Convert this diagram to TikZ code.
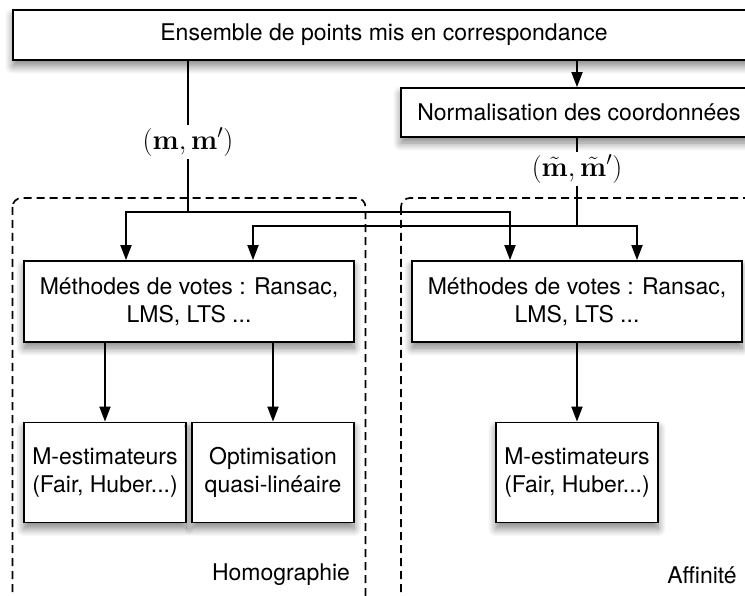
\RequirePackage{fix-cm}
\documentclass[tikz,border=0pt]{standalone}
\usepackage[no-math]{fontspec}
\setmainfont{TeX Gyre Heros}
\usetikzlibrary{arrows.meta,shadows.blur}
\pgfdeclarelayer{bg}
\pgfsetlayers{bg,main}
\begin{document}
\begin{tikzpicture}[x=1pt,y=-1pt,
  font=\fontsize{23}{28}\selectfont,
  box/.style={draw,line width=1.8pt,fill=white,inner sep=0pt,align=center,
    blur shadow={shadow blur steps=10,shadow xshift=0pt,shadow yshift=-6pt,
      shadow blur radius=8pt,shadow opacity=50}},
  conn/.style={line width=1.8pt},
  arr/.style={conn,-{Triangle[length=15pt,width=11pt]}},
  group/.style={draw,dash pattern=on 8pt off 5pt,line width=1.7pt,rounded corners=9pt},
  mathlab/.style={inner sep=3pt,font=\fontsize{28}{32}\selectfont}]
\useasboundingbox (0,0) rectangle (745,596);
\clip (0,0) rectangle (745,596);
% boxes
\node[box,minimum width=742,minimum height=50] (top) at (384,35) {Ensemble de points mis en correspondance};
\node[box,minimum width=356,minimum height=49] (norm) at (579,112.5) {Normalisation des coordonnées};
\node[box,minimum width=330,minimum height=81] (votesL) at (189,301.5) {Méthodes de votes : Ransac,\\LMS, LTS ...};
\node[box,minimum width=330,minimum height=81] (votesR) at (577,301.5) {Méthodes de votes : Ransac,\\LMS, LTS ...};
\node[box,minimum width=162,minimum height=100] (mestL) at (105,472.5) {M-estimateurs\\(Fair, Huber...)};
\node[box,minimum width=162,minimum height=100] (optim) at (273,472.5) {Optimisation\\quasi-linéaire};
\node[box,minimum width=162,minimum height=100] (mestR) at (577,472.5) {M-estimateurs\\(Fair, Huber...)};
% group labels
\node (homo) at (281,575) {Homographie};
\node (aff) at (702,575) {Affinité};
% link labels
\node[mathlab] (mlab) at (188,142) {$(\mathbf{m},\mathbf{m}')$};
\node[mathlab] (mtl) at (577,169) {$(\tilde{\mathbf{m}},\tilde{\mathbf{m}}')$};
% junctions
\coordinate (j1) at (188,212);
\coordinate (a1) at (126,212);
\coordinate (a2) at (510,212);
\coordinate (j2) at (577,226);
\coordinate (b1) at (253,226);
\coordinate (b2) at (637,226);
\begin{pgfonlayer}{bg}
% groups
\draw[group] (12.5,198) rectangle (365.5,606);
\draw[group] (401,198) rectangle (770,606);
% connectors
\draw[conn] (top.south -| mlab) -- (mlab.north);
\draw[conn] (mlab.south) -- (j1);
\draw[arr] (j1) -- (a1) -- (a1 |- votesL.north);
\draw[arr] (j1) -- (a2) -- (a2 |- votesR.north);
\draw[arr] (top.south -| j2) -- (norm.north -| j2);
\draw[conn] (norm.south -| j2) -- (mtl.north);
\draw[conn] (mtl.south) -- (j2);
\draw[arr] (j2) -- (b1) -- (b1 |- votesL.north);
\draw[arr] (j2) -- (b2) -- (b2 |- votesR.north);
\draw[arr] (votesL.south -| mestL) -- (mestL.north);
\draw[arr] (votesL.south -| optim) -- (optim.north);
\draw[arr] (votesR.south -| mestR) -- (mestR.north);
\end{pgfonlayer}
\end{tikzpicture}
\end{document}
